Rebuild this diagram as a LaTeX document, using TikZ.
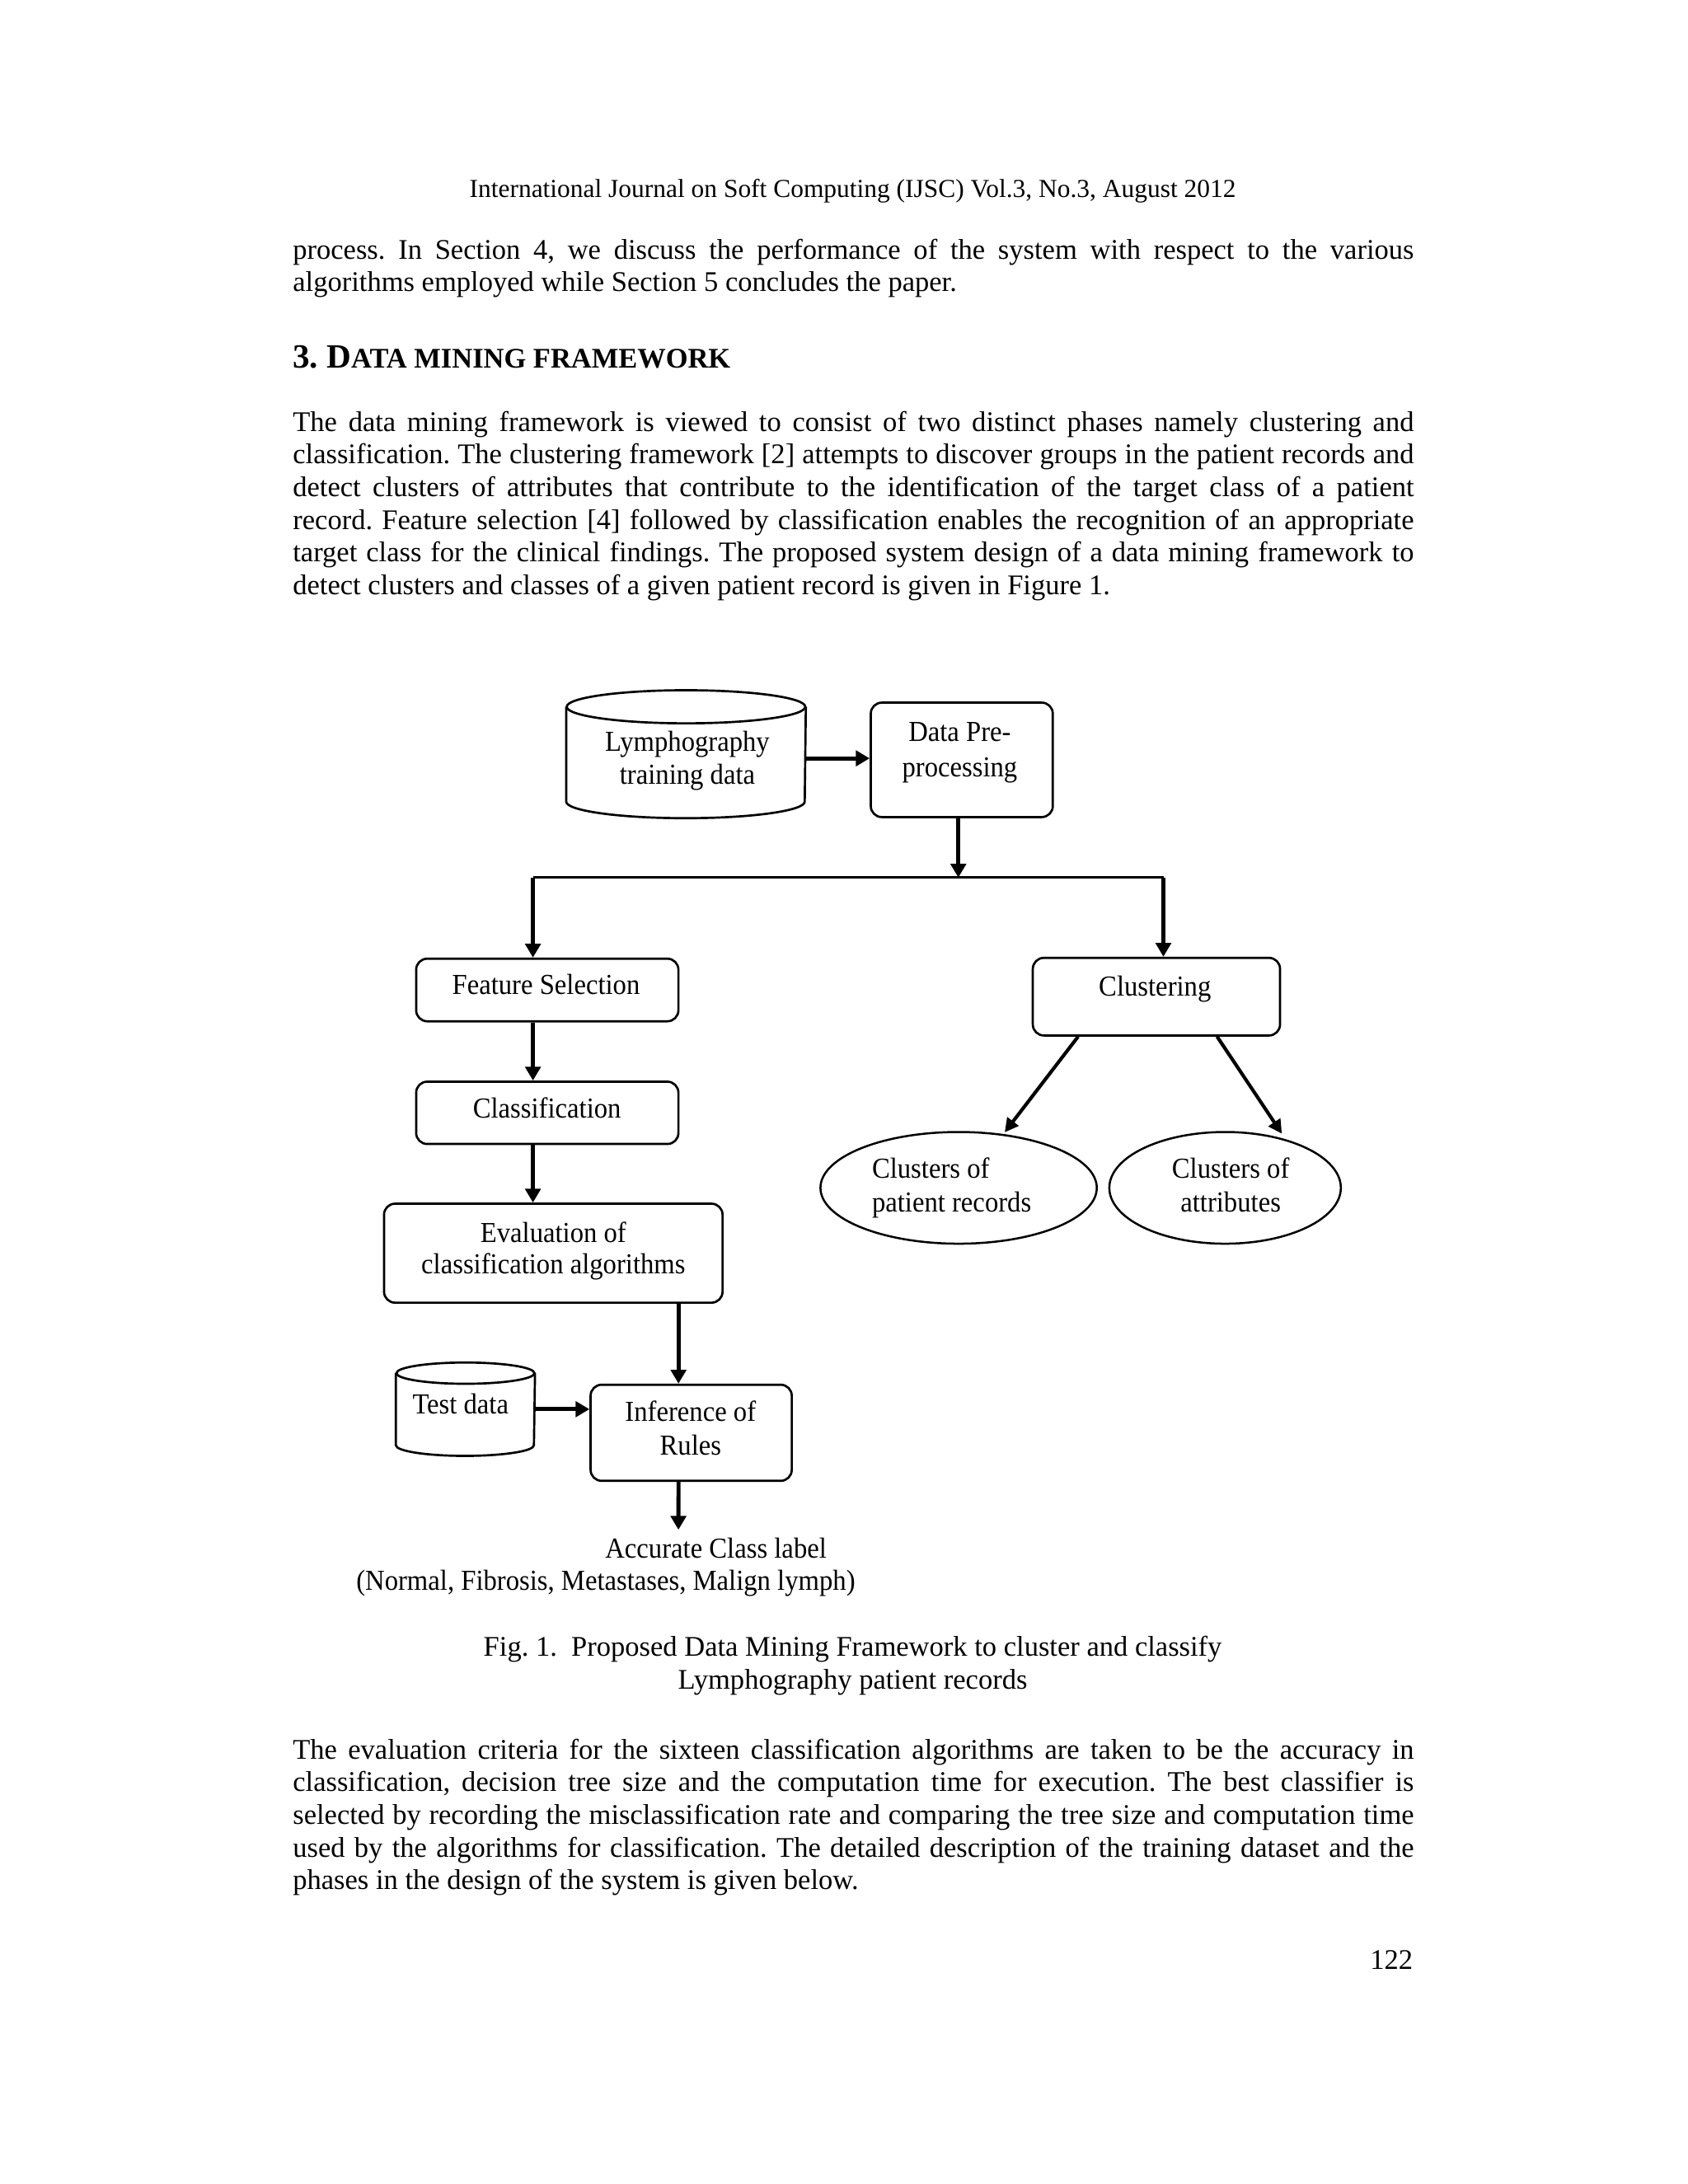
\documentclass[tikz,border=0pt]{standalone}
\usepackage{fontspec}
\setmainfont{Liberation Serif}
\newfontfamily\diagfont[FakeStretch=0.93]{Liberation Serif}
\usetikzlibrary{arrows.meta,shapes.geometric,calc}
\frenchspacing
\newcommand\jline[1]{\makebox[406.5pt][s]{\spaceskip=2.6pt plus 4pt minus 1.2pt\relax #1}}
\begin{document}
\begin{tikzpicture}[x=0.5pt,y=-0.5pt,
  bodyf/.style={font=\fontsize{10.32}{11.85}\selectfont},
  para/.style={bodyf, inner sep=0pt, anchor=base west},
  dl/.style={inner sep=0pt, anchor=base, font=\diagfont\fontsize{10.5}{11.9}\selectfont},
  rbox/.style={draw, line width=0.8pt, rounded corners=4pt, inner sep=0pt},
  oval/.style={draw, ellipse, line width=0.75pt, inner sep=0pt},
  cylarea/.style={inner sep=0pt},
  shp/.style={line width=0.8pt},
  arr/.style={line width=1.45pt, -{Triangle[length=5pt,width=5.5pt]}},
  thinarr/.style={line width=1.25pt, -{Triangle[length=5pt,width=5pt]}},
  busline/.style={line width=0.85pt}]
\fill[white] (0,0) rectangle (1224,1584);
\useasboundingbox (0,0) rectangle (1224,1584);

% ---------- page text ----------
\node[inner sep=0pt, anchor=base, font=\fontsize{9.4}{11}\selectfont] (hdr) at (618.4,143) {International Journal on Soft Computing (IJSC) Vol.3, No.3, August 2012};

\node[para] (p1a) at (212,187.7) {\jline{process. In Section 4, we discuss the performance of the system with respect to the various}};
\node[para] (p1b) at (212,211.4) {algorithms employed while Section 5 concludes the paper.};

\node[inner sep=0pt, anchor=base west] (sec) at (212,266.6) {\bfseries\fontsize{12.3}{14}\selectfont 3. D\fontsize{10.3}{12}\selectfont ATA MINING FRAMEWORK};

\node[para] (p2a) at (212,312.8) {\jline{The data mining framework is viewed to consist of two distinct phases namely clustering and}};
\node[para] (p2b) at (212,336.5) {\jline{classification. The clustering framework [2] attempts to discover groups in the patient records and}};
\node[para] (p2c) at (212,360.2) {\jline{detect clusters of attributes that contribute to the identification of the target class of a patient}};
\node[para] (p2d) at (212,383.9) {\jline{record. Feature selection [4] followed by classification enables the recognition of an appropriate}};
\node[para] (p2e) at (212,407.6) {\jline{target class for the clinical findings. The proposed system design of a data mining framework to}};
\node[para] (p2f) at (212,431.3) {detect clusters and classes of a given patient record is given in Figure 1.};

\node[bodyf, inner sep=0pt, anchor=base] (cap1) at (618.4,1201.3) {Fig. 1.\ \ Proposed Data Mining Framework to cluster and classify};
\node[bodyf, inner sep=0pt, anchor=base] (cap2) at (618.4,1225) {Lymphography patient records};

\node[para] (p3a) at (212,1275.7) {\jline{The evaluation criteria for the sixteen classification algorithms are taken to be the accuracy in}};
\node[para] (p3b) at (212,1299.4) {\jline{classification, decision tree size and the computation time for execution. The best classifier is}};
\node[para] (p3c) at (212,1323.1) {\jline{selected by recording the misclassification rate and comparing the tree size and computation time}};
\node[para] (p3d) at (212,1346.8) {\jline{used by the algorithms for classification. The detailed description of the training dataset and the}};
\node[para] (p3e) at (212,1370.5) {phases in the design of the system is given below.};

\node[bodyf, inner sep=0pt, anchor=base east] (pgno) at (1025,1428) {122};

% ---------- diagram shapes ----------
\node[cylarea, minimum width=86.5pt, minimum height=46pt] (lymph) at (497.5,547) {};
\draw[shp] ([yshift=-6pt]lymph.north) ellipse [x radius=43.25pt, y radius=6pt];
\draw[shp] ([yshift=-6pt]lymph.north west) -- ([yshift=6pt]lymph.south west)
  arc [start angle=180, end angle=360, x radius=43.25pt, y radius=6pt] -- ([yshift=-6pt]lymph.north east);

\node[rbox, minimum width=66pt, minimum height=41.5pt] (prep) at (697.5,551.1) {};
\node[rbox, minimum width=95.1pt, minimum height=22.7pt] (feat) at (396.9,718) {};
\node[rbox, minimum width=95.1pt, minimum height=22.6pt] (clas) at (396.9,807.1) {};
\node[rbox, minimum width=122.75pt, minimum height=35.9pt] (eval) at (401.25,908.9) {};

\node[cylarea, minimum width=50.05pt, minimum height=33.45pt] (test) at (337.55,1022.05) {};
\draw[shp] ([yshift=-3.85pt]test.north) ellipse [x radius=25.025pt, y radius=3.85pt];
\draw[shp] ([yshift=-3.85pt]test.north west) -- ([yshift=3.85pt]test.south west)
  arc [start angle=180, end angle=360, x radius=25.025pt, y radius=3.85pt] -- ([yshift=-3.85pt]test.north east);

\node[rbox, minimum width=72.95pt, minimum height=34.85pt] (infer) at (501.25,1039.15) {};
\node[rbox, minimum width=89.65pt, minimum height=28.15pt] (clus) at (838.65,722.85) {};
\node[oval, minimum width=100.2pt, minimum height=40.5pt] (cpr) at (695.2,861.5) {};
\node[oval, minimum width=83.95pt, minimum height=40.5pt] (cat) at (888.45,861.5) {};

% ---------- diagram texts ----------
\node[dl] (lymphA) at (498.5,545) {Lymphography};
\node[dl] (lymphB) at (498.5,568.7) {training data};
\node[dl] (prepA) at (696,537.7) {Data Pre-};
\node[dl] (prepB) at (696,563.6) {processing};
\node[dl] (featT) at (396,721.2) {Feature Selection};
\node[dl] (clasT) at (396.7,810.8) {Classification};
\node[dl] (evalA) at (401.3,901) {Evaluation of};
\node[dl] (evalB) at (401.3,924) {classification algorithms};
\node[dl] (testT) at (334,1025.7) {Test data};
\node[dl] (inferA) at (500.8,1031) {Inference of};
\node[dl] (inferB) at (500.8,1055) {Rules};
\node[dl] (accT) at (519.2,1130) {Accurate Class label};
\node[dl, anchor=base west] (normT) at (258,1153.4) {(Normal, Fibrosis, Metastases, Malign lymph)};
\node[dl] (clusT) at (837.6,722.6) {Clustering};
\node[dl, anchor=base west] (cprA) at (632,854.7) {Clusters of};
\node[dl, anchor=base west] (cprB) at (632,878.8) {patient records};
\node[dl] (catA) at (892.5,854.7) {Clusters of};
\node[dl] (catB) at (892.5,878.8) {attributes};

% ---------- connectors ----------
\coordinate (la) at ([yshift=-1.5pt]lymph.east);
\draw[arr] (la) -- (la -| prep.west);

\coordinate (busL) at (386.5,636.5);
\coordinate (busR) at (843.7,636.5);
\coordinate (pp) at ([xshift=-1.25pt]prep.south);
\draw[busline] (busL) -- (busR);
\draw[arr] (pp) -- (pp |- busL);
\draw[arr] (busL) -- (busL |- feat.north);
\draw[arr] (busR) -- (busR |- clus.north);
\draw[arr] (busL |- feat.south) -- (busL |- clas.north);
\draw[arr] (busL |- clas.south) -- (busL |- eval.north);

\coordinate (ei) at ([xshift=-4.6pt]infer.north);
\draw[arr] (ei |- eval.south) -- (ei);
\draw[arr] (test.east) -- (test.east -| infer.west);
\coordinate (io) at ([xshift=-4.6pt]infer.south);
\coordinate (outtip) at (492,1109.5);
\draw[arr] (io) -- (outtip);

\draw[thinarr] ([xshift=-28.4pt]clus.south) -- ([xshift=16.7pt,yshift=-0.5pt]cpr.north);
\draw[thinarr] ([xshift=22pt]clus.south) -- ([xshift=20.6pt,yshift=-1pt]cat.north);
\end{tikzpicture}
\end{document}
